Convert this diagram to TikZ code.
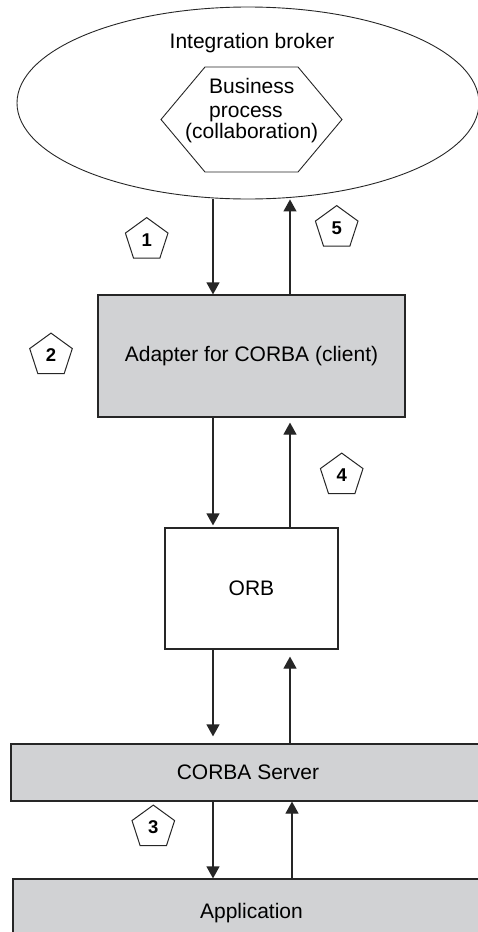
\documentclass[tikz,border=0pt]{standalone}
\usepackage{fontspec}
\setmainfont{Liberation Sans}
\usetikzlibrary{shapes.geometric,arrows.meta}
\definecolor{boxgray}{HTML}{D1D2D4}
\definecolor{ink}{HTML}{262626}
\begin{document}
\begin{tikzpicture}[x=1pt,y=-1pt,
  font=\fontsize{21}{24}\selectfont,
  box/.style={draw=ink, line width=1.2pt, inner sep=0pt},
  arr/.style={draw=ink, line width=1.2pt, -{Triangle[length=12pt,width=13pt]}},
  num/.style={draw=ink, line width=1pt, regular polygon, regular polygon sides=5,
    minimum size=44.8pt, inner sep=0pt, fill=white,
    font=\fontsize{18.5}{20}\selectfont\bfseries},
  txt/.style={inner sep=0pt, anchor=base west}]
\clip (0,0) rectangle (478,932);

% Integration broker
\node[draw=ink, line width=0.9pt, ellipse, minimum width=462pt, minimum height=192pt, inner sep=0pt] (broker) at (248,103) {};
\node (brokerlbl) at (252,43) {Integration broker};

% Business process hexagon
\draw[ink, line width=0.9pt] (161,119.5) -- (205,67) -- (298,67) -- (342,119.5) -- (298,172) -- (205,172) -- cycle;
\node[txt] (bp1) at (209,93) {Business};
\node[txt] (bp2) at (209,117) {process};
\node[txt] (bp3) at (185,138) {(collaboration)};

% Boxes
\node[box, fill=boxgray, minimum width=307pt, minimum height=122pt] (adapter) at (251.5,356) {Adapter for CORBA (client)};
\node[box, fill=white, minimum width=173pt, minimum height=121pt] (orb) at (251.5,588.5) {ORB};
\node[box, fill=boxgray, minimum width=474pt, minimum height=57pt] (server) at (248,772.5) {CORBA Server};
\node[box, fill=boxgray, minimum width=477pt, minimum height=68pt] (app) at (251.5,913) {Application};

% Arrow columns
\coordinate (cl) at (213,0);
\coordinate (cr) at (290,0);
\coordinate (cr2) at (292,0);

\draw[arr] (cl |- broker.south) -- (cl |- adapter.north);
\draw[arr] (cr |- adapter.north) -- (cr |- broker.south);
\draw[arr, shorten >=2pt] (cl |- adapter.south) -- (cl |- orb.north);
\draw[arr, shorten >=5pt] (cr |- orb.north) -- (cr |- adapter.south);
\draw[arr, shorten >=7pt] (cl |- orb.south) -- (cl |- server.north);
\draw[arr, shorten >=7pt] (cr |- server.north) -- (cr |- orb.south);
\draw[arr] (cl |- server.south) -- (cl |- app.north);
\draw[arr] (cr2 |- app.north) -- (cr2 |- server.south);

% Step markers
\node[num] (n1) at (146.7,240) {1};
\node[num] (n5) at (336.7,228) {5};
\node[num] (n2) at (51,355.5) {2};
\node[num] (n4) at (341.7,475.5) {4};
\node[num] (n3) at (153.3,827.5) {3};
\end{tikzpicture}
\end{document}
